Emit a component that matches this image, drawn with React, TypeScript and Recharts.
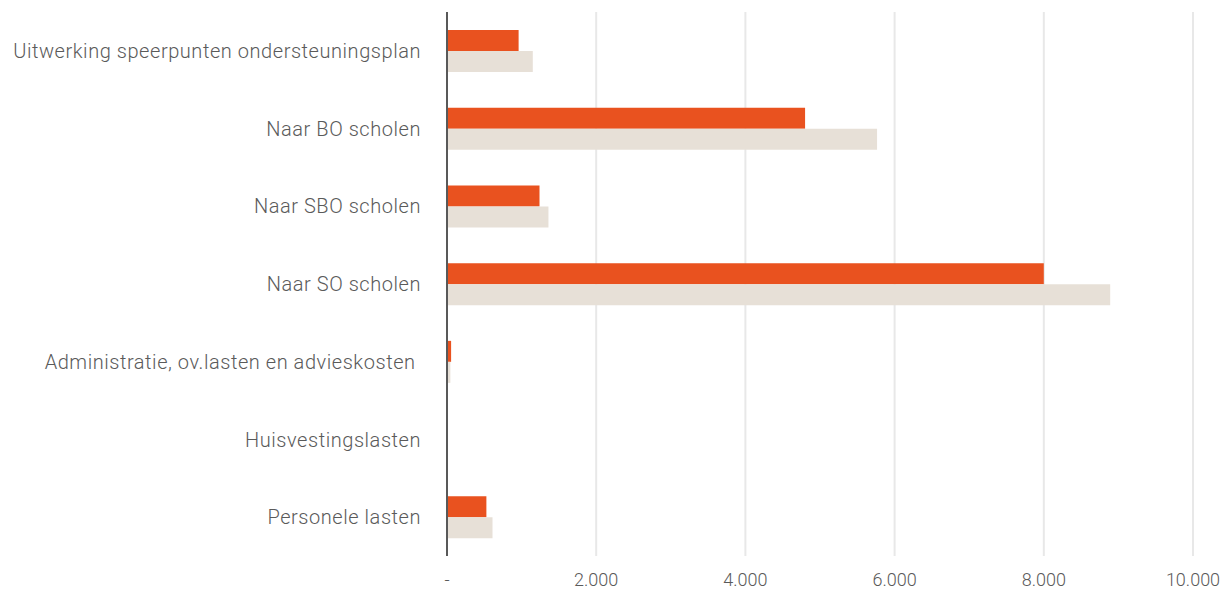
import React from 'react';
import { BarChart, Bar, XAxis, YAxis, CartesianGrid } from 'recharts';

const categories = [
  'Uitwerking speerpunten ondersteuningsplan',
  'Naar BO scholen',
  'Naar SBO scholen',
  'Naar SO scholen',
  'Administratie, ov.lasten en advieskosten\u00a0',
  'Huisvestingslasten',
  'Personele lasten',
];
const realisatie = [960, 4800, 1240, 8000, 55, 0, 528];
const begroting = [1150, 5765, 1360, 8890, 45, 0, 610];
const xTicks = [0, 2000, 4000, 6000, 8000, 10000];

const data = categories.map((name, i) => ({ name, realisatie: realisatie[i], begroting: begroting[i] }));

const fmt = (v: number) => (v === 0 ? '-' : String(v).replace(/\B(?=(\d{3})+(?!\d))/g, '.'));

const FONT = 'Roboto, "Noto Sans", sans-serif';

export default function App() {
  return (
    <div style={{ position: 'absolute', left: 0, top: 0, background: '#fff' }}>
      <BarChart
        width={1220}
        height={589}
        data={data}
        layout="vertical"
        margin={{ top: 12, right: 27, bottom: 0, left: 0 }}
        barSize={21}
        barGap={0}
      >
        <CartesianGrid horizontal={false} stroke="#e8e8e8" strokeWidth={2} />
        <XAxis
          type="number"
          domain={[0, 10000]}
          ticks={xTicks}
          tickFormatter={fmt}
          axisLine={false}
          tickLine={false}
          tickSize={0}
          tickMargin={17}
          height={33}
          tick={{ fill: '#5a5a5a', fontSize: 18, fontFamily: FONT, fontWeight: 300 }}
        />
        <YAxis
          type="category"
          dataKey="name"
          width={447}
          tickLine={false}
          tickSize={0}
          tickMargin={26}
          axisLine={{ stroke: '#595959', strokeWidth: 2 }}
          interval={0}
          tick={{ fill: '#5a5a5a', fontSize: 20, fontFamily: FONT, fontWeight: 300, letterSpacing: 0.55 }}
        />
        <Bar dataKey="realisatie" fill="#E9521F" isAnimationActive={false} />
        <Bar dataKey="begroting" fill="#E7E0D7" isAnimationActive={false} />
      </BarChart>
    </div>
  );
}
